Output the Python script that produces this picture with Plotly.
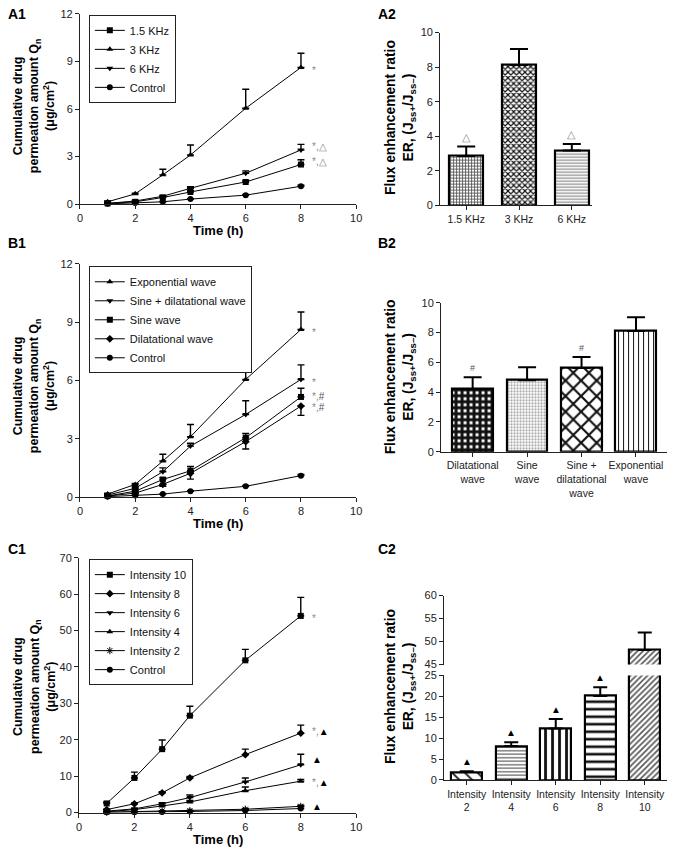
import plotly.graph_objects as go

W, H = 674, 855
FONT = "Liberation Sans, Arial, sans-serif"

# ------------------------------------------------------------------ data
time_h = [1, 2, 3, 4, 6, 8]

# A1 - frequency
a1_names = ["1.5 KHz", "3 KHz", "6 KHz", "Control"]
a1_khz15 = [0.05, 0.15, 0.42, 0.77, 1.40, 2.50]
a1_khz15_err = [0.02, 0.03, 0.05, 0.08, 0.10, 0.30]
a1_khz3 = [0.15, 0.65, 1.85, 3.10, 6.05, 8.62]
a1_khz3_err = [0.05, 0.05, 0.35, 0.63, 1.20, 0.90]
a1_khz6 = [0.05, 0.20, 0.50, 1.00, 1.95, 3.42]
a1_khz6_err = [0.02, 0.03, 0.05, 0.10, 0.15, 0.35]
a1_control = [0.02, 0.07, 0.15, 0.32, 0.57, 1.13]
a1_control_err = [0.01, 0.01, 0.02, 0.03, 0.04, 0.06]
a1_sig = ["*,△", "*", "*,△", ""]

# A2 - enhancement ratio by frequency
a2_cats = ["1.5 KHz", "3 KHz", "6 KHz"]
a2_er = [2.85, 8.12, 3.17]
a2_err = [0.55, 0.93, 0.38]
a2_sig = ["△", "", "△"]

# B1 - waveform
b1_names = ["Exponential wave", "Sine + dilatational wave", "Sine wave",
            "Dilatational wave", "Control"]
b1_exp = [0.15, 0.65, 1.85, 3.10, 6.05, 8.62]
b1_exp_err = [0.05, 0.05, 0.35, 0.63, 1.20, 0.90]
b1_sinedil = [0.10, 0.45, 1.30, 2.62, 4.25, 6.05]
b1_sinedil_err = [0.03, 0.08, 0.20, 0.15, 0.70, 0.75]
b1_sine = [0.05, 0.30, 0.90, 1.35, 3.05, 5.15]
b1_sine_err = [0.02, 0.05, 0.10, 0.22, 0.22, 0.45]
b1_dil = [0.05, 0.20, 0.65, 1.22, 2.85, 4.68]
b1_dil_err_down = [0.02, 0.05, 0.10, 0.30, 0.38, 0.48]
b1_control = [0.02, 0.08, 0.15, 0.30, 0.55, 1.10]
b1_control_err = [0.01, 0.01, 0.02, 0.03, 0.04, 0.06]
b1_sig = ["*", "*", "*,#", "*,#", ""]

# B2 - enhancement ratio by waveform
b2_cats = ["Dilatational<br>wave", "Sine<br>wave", "Sine +<br>dilatational<br>wave",
           "Exponential<br>wave"]
b2_er = [4.20, 4.80, 5.62, 8.10]
b2_err = [0.80, 0.87, 0.73, 0.92]
b2_sig = ["#", "", "#", ""]

# C1 - intensity
c1_names = ["Intensity 10", "Intensity 8", "Intensity 6", "Intensity 4",
            "Intensity 2", "Control"]
c1_int10 = [2.5, 9.5, 17.4, 26.6, 41.8, 54.0]
c1_int10_err = [0.4, 1.6, 2.5, 2.6, 3.0, 5.1]
c1_int8 = [0.8, 2.4, 5.4, 9.5, 15.9, 21.8]
c1_int8_err = [0.1, 0.2, 0.3, 0.4, 1.5, 2.2]
c1_int6 = [0.4, 1.0, 2.4, 4.1, 8.4, 13.1]
c1_int6_err = [0.1, 0.2, 0.3, 0.7, 1.1, 2.9]
c1_int4 = [0.2, 0.8, 1.8, 2.9, 6.0, 8.6]
c1_int4_err = [0.05, 0.1, 0.2, 0.4, 1.0, 0.5]
c1_int2 = [0.1, 0.3, 0.4, 0.5, 0.9, 1.7]
c1_int2_err = [0.02, 0.05, 0.05, 0.1, 0.2, 0.3]
c1_control = [0.05, 0.08, 0.15, 0.30, 0.55, 1.10]
c1_control_err = [0.01, 0.01, 0.02, 0.03, 0.04, 0.06]
c1_sig = ["*", "*,▲", "▲", "*,▲", "▲", ""]

# C2 - enhancement ratio by intensity
c2_cats = ["Intensity<br>2", "Intensity<br>4", "Intensity<br>6", "Intensity<br>8",
           "Intensity<br>10"]
c2_er = [1.9, 8.1, 12.3, 20.1, 48.2]
c2_err = [0.2, 0.9, 2.3, 2.1, 3.8]
c2_sig = ["▲", "▲", "▲", "▲", ""]

y_ticks_small = [0, 3, 6, 9, 12]
y_ticks_c1 = [0, 10, 20, 30, 40, 50, 60, 70]
x_ticks = [0, 2, 4, 6, 8, 10]


# ------------------------------------------------------------------ helpers
def xd(a, b):
    return [a / W, b / W]


def yd(top, bottom):
    return [1 - bottom / H, 1 - top / H]


def px_x(v):
    return v / W


def px_y(v):
    return 1 - v / H


GRAY = "#8a8a8a"


def sig_text(s):
    out = []
    for ch in s:
        if ch == "▲":
            out.append('<span style="color:#000">▲</span>')
        elif ch == "#":
            out.append('<span style="color:#555">#</span>')
        else:
            out.append('<span style="color:%s">%s</span>' % (GRAY, ch))
    return "".join(out)


fig = go.Figure()


def add_lines(names, series, errs_up, errs_down, symbols, xa, ya, legend):
    for name, yv, eu, ed, sym in zip(names, series, errs_up, errs_down, symbols):
        fig.add_trace(go.Scatter(
            x=time_h, y=yv, name=name, mode="lines+markers",
            xaxis=xa, yaxis=ya, legend=legend, cliponaxis=False,
            line=dict(color="black", width=1),
            marker=dict(color="black", size=6, symbol=sym),
            error_y=dict(type="data", symmetric=False,
                         array=eu if eu is not None else [0] * len(yv),
                         arrayminus=ed if ed is not None else [0] * len(yv),
                         color="black", thickness=1.4, width=3.5),
        ))


def add_bars(cats, vals, errs, pattern, xa, ya, width, capw):
    fig.add_trace(go.Bar(
        x=cats, y=vals, xaxis=xa, yaxis=ya, width=width, showlegend=False,
        marker=dict(color="white", line=dict(color="black", width=2.2),
                    pattern=dict(fillmode="replace", bgcolor="white", **pattern)),
        error_y=dict(type="data", symmetric=False, array=errs,
                     arrayminus=[0] * len(vals), color="black",
                     thickness=2, width=capw),
    ))


# A1
add_lines(a1_names, [a1_khz15, a1_khz3, a1_khz6, a1_control],
          [a1_khz15_err, a1_khz3_err, a1_khz6_err, a1_control_err],
          [None] * 4, ["square", "triangle-up", "triangle-down", "circle"],
          "x", "y", "legend")
# A2
add_bars(a2_cats, a2_er, a2_err,
         dict(shape=["+", "x", "-"], fgcolor=["#555", "#111", "#8a8a8a"],
              size=[3, 4, 3], solidity=[0.5, 0.5, 0.4]),
         "x2", "y2", 0.65, 9)
# B1
add_lines(b1_names, [b1_exp, b1_sinedil, b1_sine, b1_dil, b1_control],
          [b1_exp_err, b1_sinedil_err, b1_sine_err, None, b1_control_err],
          [None, None, None, b1_dil_err_down, None],
          ["triangle-up", "triangle-down", "square", "diamond", "circle"],
          "x3", "y3", "legend2")
# B2
add_bars(b2_cats, b2_er, b2_err,
         dict(shape=["+", ".", "x", "|"], fgcolor=["#111", "#9a9a9a", "#111", "#111"],
              size=[6, 3, 11, 5], solidity=[0.75, 0.4, 0.35, 0.2]),
         "x4", "y4", 0.75, 9)
# C1
add_lines(c1_names, [c1_int10, c1_int8, c1_int6, c1_int4, c1_int2, c1_control],
          [c1_int10_err, c1_int8_err, c1_int6_err, c1_int4_err, c1_int2_err, c1_control_err],
          [None] * 6,
          ["square", "diamond", "triangle-down", "triangle-up", "asterisk-open", "circle"],
          "x5", "y5", "legend3")
# C2 (broken axis: lower and upper parts)
c2_pattern = dict(shape=["\\", "-", "|", "-", "/"],
                  fgcolor=["#111", "#444", "#111", "#111", "#555"],
                  size=[9, 3.5, 7, 7.5, 4], solidity=[0.2, 0.3, 0.4, 0.35, 0.4])
add_bars(c2_cats, c2_er, c2_err, c2_pattern, "x6", "y6", 0.7, 7)
add_bars(c2_cats, c2_er, c2_err, c2_pattern, "x7", "y7", 0.7, 7)

# ------------------------------------------------------------------ axes
tickfont = dict(family=FONT, size=11, color="#222")
base = dict(showline=True, linecolor="#222", linewidth=1, ticks="outside",
            ticklen=4, tickcolor="#222", tickfont=tickfont, showgrid=False,
            zeroline=False, fixedrange=True)
cat_font = dict(family=FONT, size=10.5, color="#222")

lay = dict(
    width=W, height=H, margin=dict(l=0, r=0, t=0, b=0),
    paper_bgcolor="white", plot_bgcolor="white",
    font=dict(family=FONT, color="#111"),
    bargap=0,
    # A1
    xaxis=dict(base, domain=xd(78, 358), range=[0, 10], tickvals=x_ticks, anchor="y"),
    yaxis=dict(base, domain=yd(8, 201), range=[0, 12], tickvals=y_ticks_small, anchor="x"),
    # A2
    xaxis2=dict(base, domain=xd(443, 597), range=[-0.495, 2.383], anchor="y2",
                type="category", tickangle=0, tickfont=cat_font),
    yaxis2=dict(base, domain=yd(27, 202), range=[0, 10], dtick=2, anchor="x2"),
    # B1
    xaxis3=dict(base, domain=xd(78, 358), range=[0, 10], tickvals=x_ticks, anchor="y3"),
    yaxis3=dict(base, domain=yd(261.5, 498), range=[0, 12], tickvals=y_ticks_small,
                anchor="x3"),
    # B2
    xaxis4=dict(base, domain=xd(444, 673), range=[-0.58, 3.57], anchor="y4",
                type="category", tickangle=0, tickfont=cat_font),
    yaxis4=dict(base, domain=yd(301, 452), range=[0, 10], dtick=2, anchor="x4"),
    # C1
    xaxis5=dict(base, domain=xd(77, 358), range=[0, 10], tickvals=x_ticks, anchor="y5"),
    yaxis5=dict(base, domain=yd(559.5, 818), range=[0, 70], tickvals=y_ticks_c1,
                anchor="x5"),
    # C2 lower
    xaxis6=dict(base, domain=xd(447, 673), range=[-0.51, 4.5], anchor="y6",
                type="category", tickangle=0, tickfont=cat_font),
    yaxis6=dict(base, domain=yd(679, 785), range=[0, 25], dtick=5, anchor="x6"),
    # C2 upper
    xaxis7=dict(domain=xd(447, 673), range=[-0.51, 4.5], anchor="y7", type="category",
                visible=False, matches="x6", fixedrange=True),
    yaxis7=dict(base, domain=yd(598, 668), range=[45, 60], dtick=5, anchor="x7"),
)

legend_base = dict(xanchor="left", yanchor="top", bordercolor="#222", borderwidth=1,
                   bgcolor="white", font=dict(family=FONT, size=11, color="#111"),
                   tracegroupgap=0, itemwidth=30)
lay["legend"] = dict(legend_base, x=px_x(87), y=px_y(9))
lay["legend2"] = dict(legend_base, x=px_x(87), y=px_y(264))
lay["legend3"] = dict(legend_base, x=px_x(87), y=px_y(561))

fig.update_layout(**lay)

# ------------------------------------------------------------------ annotations
ann = []

# panel labels
for lab, x, y in [("A1", 3, 8), ("A2", 378, 8), ("B1", 3, 240), ("B2", 378, 240),
                  ("C1", 3, 551), ("C2", 378, 551)]:
    ann.append(dict(text="<b>%s</b>" % lab, x=px_x(x), y=px_y(y), xref="paper",
                    yref="paper", xanchor="left", yanchor="middle", showarrow=False,
                    font=dict(family=FONT, size=14, color="#000")))

# axis titles
qn_title = "<b>Cumulative drug<br>permeation amount Q<sub>n</sub><br>(μg/cm<sup>2</sup>)</b>"
er_title = "<b>Flux enhancement ratio<br>ER, (J<sub>ss+</sub>/J<sub>ss–</sub>)</b>"
for txt, x, y, size in [(qn_title, 32, 101, 12.5), (qn_title, 32, 385, 12.5),
                        (qn_title, 32, 690, 12.5), (er_title, 403, 113, 13.8),
                        (er_title, 403, 376, 13.8), (er_title, 403, 690, 13.8)]:
    ann.append(dict(text=txt, x=px_x(x), y=px_y(y), xref="paper", yref="paper",
                    xanchor="center", yanchor="middle", textangle=-90,
                    showarrow=False, font=dict(family=FONT, size=size, color="#000")))
for y in [228, 525, 845]:
    ann.append(dict(text="<b>Time (h)</b>", x=px_x(218), y=px_y(y), xref="paper",
                    yref="paper", xanchor="center", yanchor="middle", showarrow=False,
                    font=dict(family=FONT, size=13, color="#000")))


# significance marks next to line ends
def line_sig(labels, series, xa, ya, shifts):
    for s, yv, sh in zip(labels, series, shifts):
        if not s:
            continue
        ann.append(dict(text=sig_text(s), x=time_h[-1], y=yv[-1], xref=xa, yref=ya,
                        xanchor="left", yanchor="middle", xshift=9, yshift=sh,
                        showarrow=False, font=dict(family=FONT, size=10)))


line_sig(a1_sig, [a1_khz15, a1_khz3, a1_khz6, a1_control], "x", "y", [3, -3, 3, 0])
line_sig(b1_sig, [b1_exp, b1_sinedil, b1_sine, b1_dil, b1_control], "x3", "y3",
         [-3, -3, 0, -1, 0])
line_sig(c1_sig, [c1_int10, c1_int8, c1_int6, c1_int4, c1_int2, c1_control], "x5", "y5",
         [-3, 2, 5, -1, 0, 0])


# marks above bars
def bar_sig(labels, cats, vals, errs, xa, ya, size):
    for s, c, v, e in zip(labels, cats, vals, errs):
        if not s:
            continue
        ann.append(dict(text=sig_text(s), x=c, y=v + e, xref=xa, yref=ya,
                        xanchor="center", yanchor="bottom", yshift=2, showarrow=False,
                        font=dict(family=FONT, size=size)))


bar_sig(a2_sig, a2_cats, a2_er, a2_err, "x2", "y2", 11)
bar_sig(b2_sig, b2_cats, b2_er, b2_err, "x4", "y4", 9)
bar_sig(c2_sig, c2_cats, c2_er, c2_err, "x6", "y6", 10)

fig.update_layout(annotations=ann)

fig.write_html("out.html", config={"displayModeBar": False},
               post_script="document.body.style.margin='0px';"
                           "document.body.style.overflow='hidden';")
